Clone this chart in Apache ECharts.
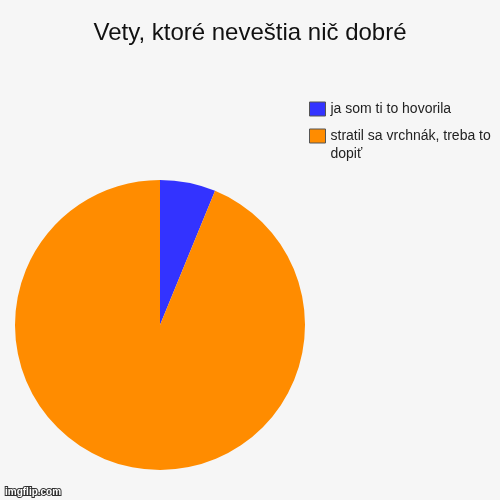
<!DOCTYPE html>
<html>
<head>
<meta charset="utf-8">
<script src="https://cdn.jsdelivr.net/npm/echarts@6/dist/echarts.min.js"></script>
<style>
  html, body { margin: 0; padding: 0; background: #f6f6f6; }
  #chart { width: 500px; height: 500px; }
</style>
</head>
<body>
<div id="chart"></div>
<script>
// slice names and shares
const names = ['ja som ti to hovorila', 'stratil sa vrchnák, treba to dopiť'];
const values = [6.2, 93.8];
const colors = ['#3333ff', '#ff8c00'];

const chart = echarts.init(document.getElementById('chart'));

function legendFor(i, top, formatter) {
  return {
    orient: 'vertical',
    left: 304,
    top: top,
    itemWidth: 16,
    itemHeight: 14,
    icon: 'rect',
    itemStyle: { borderColor: '#555', borderWidth: 1 },
    formatter: formatter,
    textStyle: {
      fontFamily: 'Liberation Sans',
      fontSize: 14,
      color: '#222',
      width: 172,
      overflow: 'break',
      lineHeight: 18
    },
    data: [names[i]]
  };
}

const option = {
  backgroundColor: '#f6f6f6',
  animation: false,
  title: {
    text: 'Vety, ktoré neveštia nič dobré',
    left: 'center',
    top: 16,
    textStyle: { fontFamily: 'Liberation Sans', fontSize: 24, fontWeight: 'normal', color: '#111' }
  },
  // the wrapped entry gets an empty first line so its icon lines up with the text's first line
  legend: [
    legendFor(0, 95),
    legendFor(1, 104, name => '\n' + name)
  ],
  series: [{
    type: 'pie',
    center: [160, 325],
    radius: 145,
    startAngle: 90,
    clockwise: true,
    label: { show: false },
    labelLine: { show: false },
    emphasis: { disabled: true },
    data: names.map((n, i) => ({ name: n, value: values[i], itemStyle: { color: colors[i] } }))
  }],
  graphic: [{
    type: 'text',
    left: 4,
    top: 486,
    style: {
      text: 'imgflip.com',
      fontFamily: 'Liberation Sans',
      fontSize: 10,
      fontWeight: 'bold',
      fill: '#fff',
      stroke: '#333',
      lineWidth: 2
    }
  }]
};

chart.setOption(option);
</script>
</body>
</html>
